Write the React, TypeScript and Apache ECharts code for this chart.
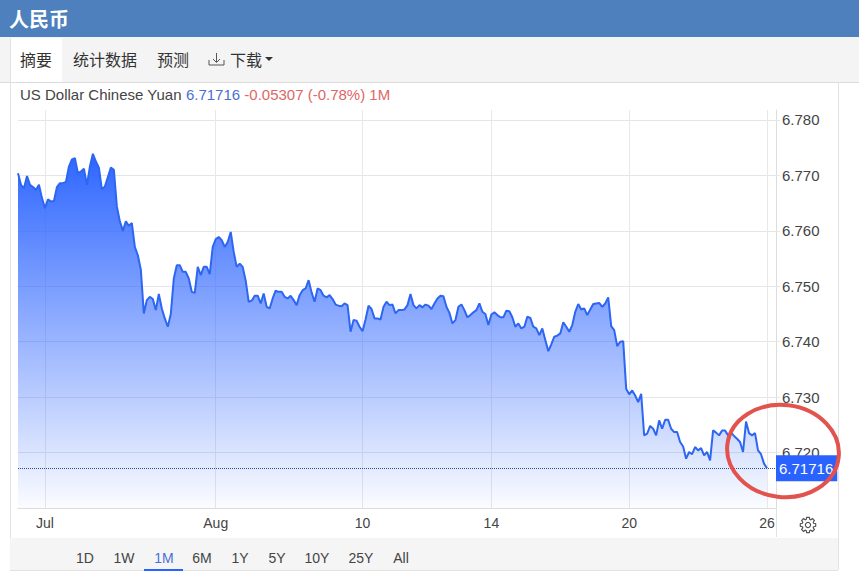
// USD/CNY one month area chart

import { useEffect, useRef } from 'react';
import * as echarts from 'echarts';

const rates = [
    6.7704, 6.7683, 6.7677, 6.7699, 6.7683, 6.7679, 6.7674, 6.7683, 6.7659, 6.7641,
    6.7657, 6.7653, 6.7654, 6.7679, 6.7686, 6.7686, 6.7688, 6.7716, 6.7729, 6.7731,
    6.7704, 6.7707, 6.7712, 6.7683, 6.7716, 6.7739, 6.7725, 6.7714, 6.7675, 6.7680,
    6.7697, 6.7714, 6.7710, 6.7644, 6.7617, 6.7600, 6.7617, 6.7609, 6.7614, 6.7571,
    6.7556, 6.7530, 6.7451, 6.7475, 6.7481, 6.7477, 6.7457, 6.7486, 6.7460, 6.7442,
    6.7427, 6.7450, 6.7514, 6.7538, 6.7538, 6.7526, 6.7526, 6.7514, 6.7490, 6.7488,
    6.7535, 6.7520, 6.7535, 6.7535, 6.7522, 6.7571, 6.7585, 6.7589, 6.7583, 6.7571,
    6.7580, 6.7598, 6.7562, 6.7535, 6.7541, 6.7535, 6.7510, 6.7472, 6.7474, 6.7483,
    6.7483, 6.7469, 6.7487, 6.7463, 6.7460, 6.7478, 6.7492, 6.7490,
    6.7490, 6.7481, 6.7478, 6.7483, 6.7475, 6.7466, 6.7484, 6.7493, 6.7496, 6.7511,
    6.7489, 6.7472, 6.7496, 6.7493, 6.7483, 6.7480, 6.7484, 6.7477, 6.7467, 6.7465,
    6.7464, 6.7469, 6.7466, 6.7418, 6.7439, 6.7438, 6.7427, 6.7419, 6.7440, 6.7465,
    6.7459, 6.7442, 6.7442, 6.7440, 6.7463, 6.7472, 6.7466, 6.7467, 6.7451, 6.7457,
    6.7457, 6.7458, 6.7466, 6.7486, 6.7466, 6.7460, 6.7466, 6.7462, 6.7467, 6.7465,
    6.7459, 6.7469, 6.7478, 6.7483, 6.7482, 6.7463, 6.7452, 6.7433, 6.7439, 6.7463,
    6.7467, 6.7457, 6.7444, 6.7448, 6.7453, 6.7457, 6.7469, 6.7454, 6.7450, 6.7430,
    6.7449, 6.7453, 6.7448, 6.7444, 6.7444, 6.7456, 6.7455, 6.7444, 6.7427, 6.7433,
    6.7424, 6.7427, 6.7445, 6.7443, 6.7427, 6.7424, 6.7412, 6.7424, 6.7403, 6.7383,
    6.7395, 6.7409, 6.7411, 6.7415, 6.7435, 6.7427, 6.7418, 6.7430, 6.7454, 6.7468,
    6.7458, 6.7460, 6.7448, 6.7458, 6.7468, 6.7469, 6.7470, 6.7463, 6.7469, 6.7480,
    6.7428, 6.7421, 6.7392, 6.7400, 6.7401, 6.7315, 6.7305, 6.7312, 6.7303, 6.7291,
    6.7306, 6.7231, 6.7234, 6.7248, 6.7243, 6.7231, 6.7258, 6.7243, 6.7259, 6.7259,
    6.7243, 6.7237, 6.7237, 6.7219, 6.7211, 6.7189, 6.7201, 6.7197, 6.7210, 6.7204,
    6.7208, 6.7195, 6.7201, 6.7186, 6.7240, 6.7236, 6.7231, 6.7240, 6.7240, 6.7231,
    6.7236, 6.7230, 6.7225, 6.7219, 6.7201, 6.7256, 6.7235, 6.7231, 6.7235, 6.7204,
    6.7197, 6.7180, 6.71716,
];
const sessionCount = 254;
const tickSessions = [9, 66, 115, 158, 204, 250];
const tickLabels = ['Jul', 'Aug', '10', '14', '20', '26'];
const categories = Array.from({ length: sessionCount }, (_, i) => {
    const at = tickSessions.indexOf(i);
    return at >= 0 ? tickLabels[at] : '';
});

const seriesName = 'US Dollar Chinese Yuan';
const lastRate = '6.71716';
const change = '-0.05307 (-0.78%) 1M';
const tabs = [
    { label: '摘要', x: 20 },
    { label: '统计数据', x: 73 },
    { label: '预测', x: 157 },
    { label: '下载', x: 230 },
];
const ranges = [
    { label: '1D', x: 85 },
    { label: '1W', x: 124 },
    { label: '1M', x: 164 },
    { label: '6M', x: 202 },
    { label: '1Y', x: 240 },
    { label: '5Y', x: 277 },
    { label: '10Y', x: 317 },
    { label: '25Y', x: 361 },
    { label: 'All', x: 401 },
];

const uiFont = '"Liberation Sans", Arial, sans-serif';
const cjkFont = '"Noto Sans CJK SC", sans-serif';
const lineColor = '#2d66f2';

// Gear outline for the settings button
const gearPoints: number[][] = [];
for (let i = 0; i < 8; i++) {
    const a = (i * Math.PI) / 4;
    [-0.3, -0.17, 0.17, 0.3].forEach((d, k) => {
        const r = k === 0 || k === 3 ? 5.9 : 7.8;
        gearPoints.push([808 + r * Math.sin(a + d), 525 - r * Math.cos(a + d)]);
    });
}

export default function App() {
    const chartRef = useRef<HTMLDivElement>(null);

    useEffect(() => {
        if (!chartRef.current) return;
        const chart = echarts.init(chartRef.current, undefined, { renderer: 'svg' });

        const option: any = {
            animation: false,
            backgroundColor: '#fff',
            textStyle: { fontFamily: uiFont },
            title: {
                left: 15,
                top: 82,
                text: `${seriesName} {rate|${lastRate}} {change|${change}}`,
                textStyle: {
                    fontSize: 15,
                    fontWeight: 400,
                    color: '#444',
                    fontFamily: uiFont,
                    rich: {
                        rate: { fontSize: 15, color: '#4a6fd4', fontFamily: uiFont },
                        change: { fontSize: 15, color: '#e06666', fontFamily: uiFont },
                    },
                },
            },
            grid: { left: 18, top: 110, width: 758, height: 398 },
            xAxis: {
                type: 'category',
                boundaryGap: false,
                data: categories,
                axisLine: { lineStyle: { color: '#dddddd' } },
                axisTick: { show: false },
                axisLabel: {
                    interval: (i: number) => tickSessions.includes(i),
                    fontSize: 14,
                    color: '#444',
                    margin: 8,
                    fontFamily: uiFont,
                },
                splitLine: {
                    show: true,
                    interval: (i: number) => tickSessions.includes(i),
                    lineStyle: { color: '#e8e8e8' },
                },
            },
            yAxis: {
                type: 'value',
                position: 'right',
                min: 6.71,
                max: 6.7818,
                interval: 0.01,
                axisLine: { show: true, lineStyle: { color: '#dddddd' } },
                axisTick: { show: true, length: 4, lineStyle: { color: '#e6e6e6' } },
                axisLabel: {
                    margin: 6,
                    fontSize: 15,
                    color: '#444',
                    padding: [0, 0, 2, 0],
                    fontFamily: uiFont,
                    showMaxLabel: false,
                    showMinLabel: false,
                    formatter: (v: number) => v.toFixed(3),
                },
                splitLine: { show: true, showMaxLine: false, lineStyle: { color: '#e6e6e6' } },
            },
            series: [
                {
                    type: 'line',
                    data: rates,
                    symbol: 'none',
                    z: 3,
                    lineStyle: { color: lineColor, width: 2 },
                    areaStyle: {
                        opacity: 1,
                        color: new echarts.graphic.LinearGradient(0, 0, 0, 1, [
                            { offset: 0, color: 'rgba(41, 98, 255, 0.98)' },
                            { offset: 1, color: 'rgba(41, 98, 255, 0.02)' },
                        ]),
                    },
                    markLine: {
                        silent: true,
                        symbol: 'none',
                        precision: 5,
                        data: [{ yAxis: Number(lastRate) }],
                        lineStyle: { type: 'dotted', width: 1, color: '#2a4a9a' },
                        label: {
                            position: 'end',
                            distance: 0,
                            formatter: lastRate,
                            color: '#fff',
                            fontSize: 15,
                            fontFamily: uiFont,
                            backgroundColor: '#2962ff',
                            padding: [6, 4, 5, 3],
                        },
                    },
                },
            ],
            graphic: [
                // header band
                { type: 'rect', shape: { x: 0, y: 0, width: 859, height: 37 }, style: { fill: '#4d80bc' }, z: 1 },
                {
                    type: 'text', x: 9, y: 18, z: 2,
                    style: { text: '人民币', fill: '#fff', font: `bold 20px ${cjkFont}`, textVerticalAlign: 'middle' },
                },
                // tab bar
                { type: 'rect', shape: { x: 0, y: 37, width: 859, height: 45 }, style: { fill: '#f4f4f4' }, z: 1 },
                { type: 'rect', shape: { x: 10, y: 38, width: 52, height: 45 }, style: { fill: '#fff' }, z: 1 },
                { type: 'line', shape: { x1: 0, y1: 82.5, x2: 859, y2: 82.5 }, style: { stroke: '#dcdcdc' }, z: 1 },
                ...tabs.map((t) => ({
                    type: 'text', x: t.x, y: 59, z: 2,
                    style: { text: t.label, fill: '#333', font: `16px ${cjkFont}`, textVerticalAlign: 'middle' },
                })),
                // download icon and caret
                { type: 'polyline', shape: { points: [[209, 60], [209, 65], [224, 65], [224, 60]] }, style: { stroke: '#555', fill: 'none' }, z: 2 },
                { type: 'line', shape: { x1: 216.5, y1: 53, x2: 216.5, y2: 62 }, style: { stroke: '#555' }, z: 2 },
                { type: 'polyline', shape: { points: [[213, 59], [216.5, 62.5], [220, 59]] }, style: { stroke: '#555', fill: 'none' }, z: 2 },
                { type: 'polygon', shape: { points: [[265, 57], [273, 57], [269, 61]] }, style: { fill: '#333' }, z: 2 },
                // panel borders
                { type: 'line', shape: { x1: 10.5, y1: 38, x2: 10.5, y2: 570 }, style: { stroke: '#e2e2e2' }, z: 1 },
                { type: 'line', shape: { x1: 838.5, y1: 83, x2: 838.5, y2: 570 }, style: { stroke: '#e2e2e2' }, z: 1 },
                { type: 'line', shape: { x1: 776.5, y1: 508, x2: 776.5, y2: 537 }, style: { stroke: '#e2e2e2' }, z: 1 },
                // settings gear
                { type: 'polygon', shape: { points: gearPoints }, style: { stroke: '#555', fill: 'none', lineWidth: 1.2 }, z: 2 },
                { type: 'circle', shape: { cx: 808, cy: 525, r: 2.6 }, style: { stroke: '#555', fill: 'none', lineWidth: 1.2 }, z: 2 },
                // range selector
                { type: 'rect', shape: { x: 10, y: 538, width: 828, height: 32 }, style: { fill: '#f5f5f5' }, z: 1 },
                { type: 'line', shape: { x1: 10, y1: 570.5, x2: 838, y2: 570.5 }, style: { stroke: '#e2e2e2' }, z: 1 },
                ...ranges.map((r) => ({
                    type: 'text', x: r.x, y: 558, z: 2,
                    style: {
                        text: r.label,
                        fill: r.label === '1M' ? '#4a6fd4' : '#444',
                        font: `14px ${uiFont}`,
                        textAlign: 'center',
                        textVerticalAlign: 'middle',
                    },
                })),
                { type: 'rect', shape: { x: 144, y: 569, width: 39, height: 2 }, style: { fill: '#2962ff' }, z: 2 },
                // hand drawn circle around the latest quote
                {
                    type: 'ellipse', z: 100, x: 783, y: 451, rotation: -0.12,
                    shape: { cx: 0, cy: 0, rx: 56, ry: 46 },
                    style: { stroke: '#e2534e', fill: 'none', lineWidth: 4 },
                },
            ],
        };

        chart.setOption(option);

        return () => {
            chart.dispose();
        };
    }, []);

    return <div ref={chartRef} style={{ position: 'absolute', left: 0, top: 0, width: 859, height: 575 }} />;
}
